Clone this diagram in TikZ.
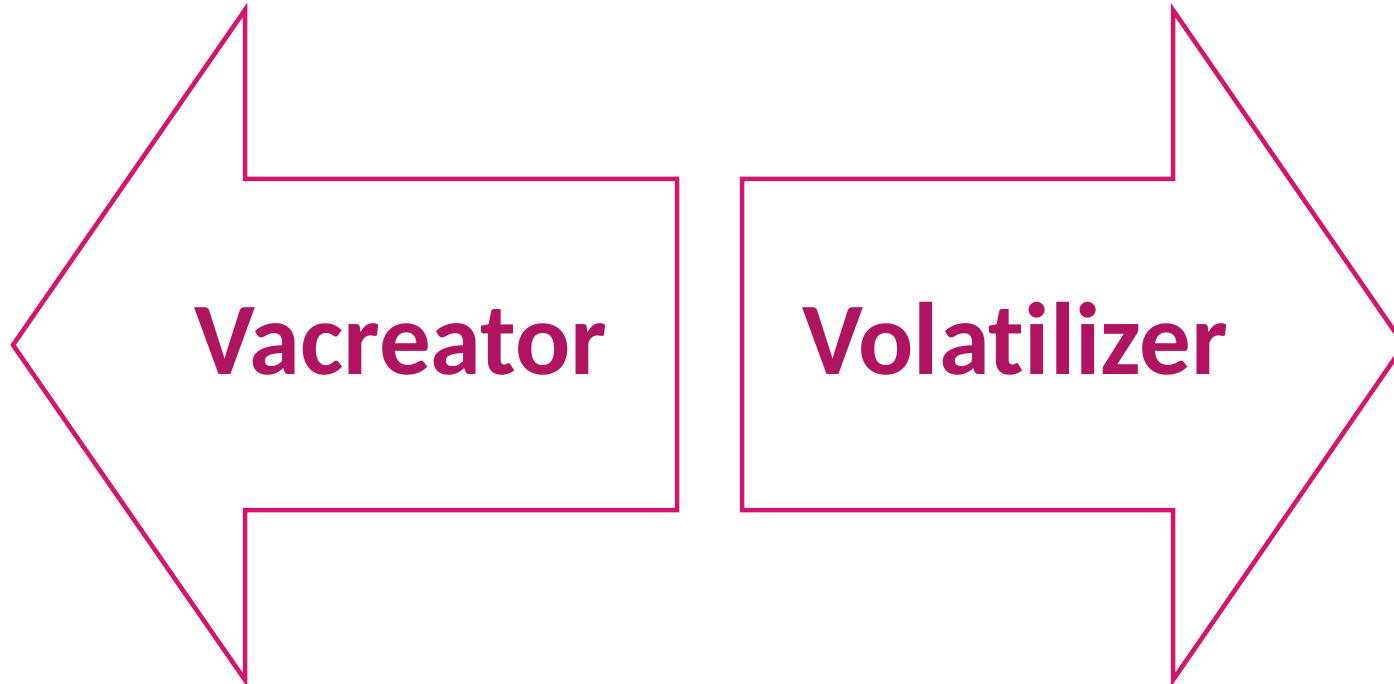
\documentclass[tikz,border=0pt]{standalone}
\usepackage{fontspec}
\setmainfont[Ligatures=NoCommon]{Carlito}
\definecolor{outl}{HTML}{D5146F}
\definecolor{txt}{HTML}{B01461}
\begin{document}
\begin{tikzpicture}[x=1pt,y=1pt,
  arrowshape/.style={draw=outl,line width=4.5pt,line join=miter,fill=white},
  label/.style={text=txt,font=\fontsize{103}{114}\selectfont\bfseries,anchor=base,inner sep=0pt}]
\useasboundingbox (0,0) rectangle (1394,683);
\clip (0,0) rectangle (1394,683);
% left arrow
\draw[arrowshape] (13,338) -- (245,673) -- (245,504) -- (677,504) -- (677,173) -- (245,173) -- (245,3) -- cycle;
% right arrow
\draw[arrowshape] (1404,338) -- (1173,673) -- (1173,504) -- (742,504) -- (742,173) -- (1173,173) -- (1173,3) -- cycle;
\node[label] (vac) at (401,308) {Vacreator};
\node[label] (vol) at (1015,308) {Volatilizer};
\end{tikzpicture}
\end{document}
